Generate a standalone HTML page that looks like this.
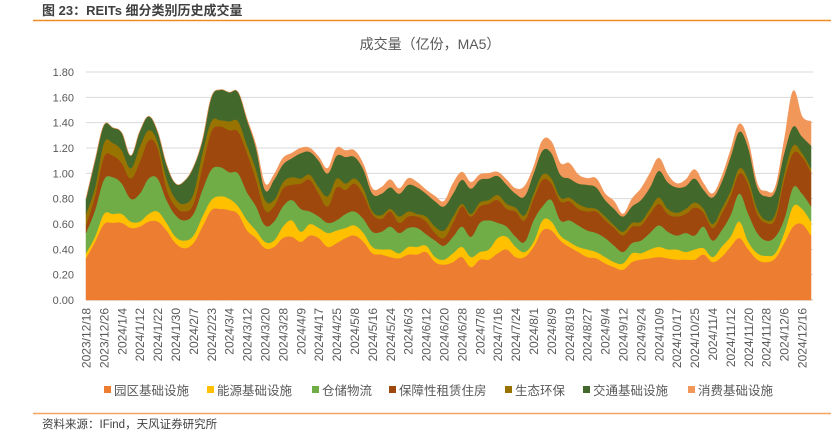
<!DOCTYPE html>
<html><head><meta charset="utf-8">
<style>
html,body{margin:0;padding:0;background:#fff;}
body{width:831px;height:440px;overflow:hidden;font-family:"Liberation Sans","Noto Sans CJK SC",sans-serif;}
svg text{font-family:"Liberation Sans","Noto Sans CJK SC",sans-serif;}
</style></head>
<body>
<svg id="chart" width="831" height="440" viewBox="0 0 831 440">
  <text x="42" y="15" font-size="13" font-weight="bold" fill="#404040">图 23：REITs 细分类别历史成交量</text>
  <line x1="33" y1="20.5" x2="831" y2="20.5" stroke="#F08A24" stroke-width="1.5"/>
  <text x="430" y="49" font-size="14" fill="#595959" text-anchor="middle">成交量（亿份，MA5）</text>
  <g id="grid"></g>
  <g id="yaxis"></g>
  <g id="areas"></g>
  <g id="xaxis"></g>
  <g id="legend"></g>
  <line x1="33" y1="413.5" x2="831" y2="413.5" stroke="#F4A460" stroke-width="1.5"/>
  <text x="42" y="428" font-size="11.5" fill="#404040">资料来源：IFind，天风证券研究所</text>
</svg>
<script>
const categories = ["2023/12/18","2023/12/26","2024/1/4","2024/1/12","2024/1/22","2024/1/30","2024/2/7","2024/2/23","2024/3/4","2024/3/12","2024/3/20","2024/3/28","2024/4/9","2024/4/17","2024/4/25","2024/5/8","2024/5/16","2024/5/24","2024/6/3","2024/6/12","2024/6/20","2024/6/28","2024/7/8","2024/7/16","2024/7/24","2024/8/1","2024/8/9","2024/8/19","2024/8/27","2024/9/4","2024/9/12","2024/9/24","2024/10/9","2024/10/17","2024/10/25","2024/11/4","2024/11/12","2024/11/20","2024/11/28","2024/12/6","2024/12/16"];
const seriesNames = ["园区基础设施","能源基础设施","仓储物流","保障性租赁住房","生态环保","交通基础设施","消费基础设施"];
const yTicks = ["0.00","0.20","0.40","0.60","0.80","1.00","1.20","1.40","1.60","1.80"];
const parkInfra = [.33,.46,.60,.61,.61,.57,.58,.62,.62,.55,.45,.41,.45,.58,.71,.72,.71,.68,.55,.49,.41,.42,.49,.50,.46,.51,.49,.42,.45,.49,.51,.46,.37,.36,.34,.33,.36,.36,.38,.30,.28,.30,.34,.26,.32,.32,.37,.40,.34,.34,.42,.55,.55,.47,.42,.38,.34,.33,.29,.26,.24,.30,.32,.33,.34,.33,.32,.32,.32,.36,.30,.34,.42,.49,.40,.32,.30,.33,.45,.58,.60,.51];
const energy = [.04,.04,.08,.07,.07,.05,.04,.06,.08,.06,.05,.06,.06,.08,.08,.10,.09,.06,.08,.06,.05,.05,.09,.13,.08,.09,.08,.11,.10,.08,.08,.07,.05,.04,.06,.04,.06,.06,.05,.04,.04,.07,.08,.08,.06,.08,.12,.10,.08,.04,.04,.08,.07,.04,.04,.04,.06,.05,.05,.04,.05,.07,.05,.07,.08,.07,.08,.06,.08,.05,.04,.08,.08,.13,.06,.05,.05,.04,.08,.16,.12,.11];
const warehouse = [.16,.21,.27,.29,.24,.18,.22,.28,.26,.18,.17,.16,.17,.21,.24,.23,.21,.26,.22,.19,.13,.15,.16,.16,.18,.10,.09,.08,.08,.11,.11,.11,.12,.14,.18,.16,.15,.15,.09,.13,.11,.13,.16,.16,.23,.23,.12,.08,.08,.08,.17,.11,.17,.12,.17,.17,.15,.15,.15,.13,.09,.08,.10,.13,.17,.14,.11,.15,.11,.17,.13,.13,.17,.22,.22,.16,.12,.13,.11,.15,.12,.12];
const housing = [.06,.11,.18,.17,.16,.16,.25,.30,.24,.09,.07,.07,.08,.18,.30,.32,.33,.33,.31,.21,.12,.12,.14,.12,.20,.25,.18,.13,.26,.19,.22,.19,.14,.10,.12,.08,.09,.09,.10,.06,.06,.11,.16,.16,.13,.13,.18,.14,.20,.17,.17,.21,.13,.15,.15,.13,.15,.17,.14,.14,.13,.13,.12,.15,.17,.14,.15,.15,.22,.11,.10,.13,.15,.16,.23,.15,.14,.14,.31,.27,.29,.27];
const ecology = [.09,.07,.11,.10,.10,.08,.12,.08,.05,.08,.06,.06,.08,.11,.08,.05,.07,.08,.06,.08,.08,.05,.05,.06,.04,.04,.05,.08,.07,.05,.04,.05,.02,.03,.02,.05,.04,.02,.04,.05,.06,.05,.02,.02,.03,.03,.04,.04,.03,.04,.04,.04,.04,.03,.03,.04,.03,.02,.03,.02,.03,.03,.03,.04,.05,.04,.03,.04,.04,.03,.03,.04,.04,.04,.04,.04,.02,.04,.05,.06,.03,.03];
const transport = [.12,.21,.14,.12,.14,.10,.12,.11,.08,.11,.12,.18,.21,.10,.19,.24,.23,.23,.20,.17,.08,.16,.14,.15,.20,.18,.21,.18,.18,.21,.17,.15,.14,.17,.17,.18,.21,.21,.18,.20,.19,.18,.19,.20,.18,.17,.15,.15,.11,.15,.16,.19,.20,.18,.15,.16,.18,.17,.13,.13,.12,.13,.17,.17,.21,.21,.20,.18,.19,.15,.21,.21,.27,.29,.25,.17,.19,.18,.16,.15,.13,.18];
const consumer = [0,0,0,0,0,0,0,0,0,0,0,0,0,0,0,0,0,0,.01,.02,.05,.04,.05,.04,.04,.03,.03,.04,.06,.05,.05,.04,.04,.05,.06,.04,.05,.04,.03,.04,.04,.08,.06,.05,.04,.04,.03,.04,.04,.08,.05,.08,.09,.09,.12,.07,.05,.07,.05,.06,.02,.06,.09,.11,.10,.06,.03,.05,.07,.05,.03,.04,.05,.06,.05,.03,.04,.03,.10,.28,.16,.19];
const series = [parkInfra, energy, warehouse, housing, ecology, transport, consumer];
const colors = ["#ED7D31","#FFC000","#70AD47","#9E480E","#997300","#43682B","#F1975A"];

const NS = "http://www.w3.org/2000/svg";
const plotL = 86, plotR = 811, plotB = 300, plotT = 72, yMax = 1.8;
const N = parkInfra.length;
const xAt = i => plotL + i * (plotR - plotL) / (N - 1);
const yAt = v => plotB - v / yMax * (plotB - plotT);
function mk(tag, attrs, parent){const e=document.createElementNS(NS,tag);for(const k in attrs)e.setAttribute(k,attrs[k]);parent.appendChild(e);return e;}
function smooth(pts, start){
  let d = (start ? 'M' : 'L') + pts[0][0].toFixed(2) + ',' + pts[0][1].toFixed(2);
  const t = 0.18;
  for (let i = 0; i < pts.length - 1; i++) {
    const p0 = pts[Math.max(0, i - 1)], p1 = pts[i], p2 = pts[i + 1], p3 = pts[Math.min(pts.length - 1, i + 2)];
    const c1x = p1[0] + (p2[0] - p0[0]) * t, c1y = p1[1] + (p2[1] - p0[1]) * t;
    const c2x = p2[0] - (p3[0] - p1[0]) * t, c2y = p2[1] - (p3[1] - p1[1]) * t;
    d += 'C' + c1x.toFixed(2) + ',' + c1y.toFixed(2) + ' ' + c2x.toFixed(2) + ',' + c2y.toFixed(2) + ' ' + p2[0].toFixed(2) + ',' + p2[1].toFixed(2);
  }
  return d;
}

const grid = document.getElementById('grid'), yaxis = document.getElementById('yaxis');
yTicks.forEach(t => {
  const v = parseFloat(t), y = yAt(v);
  const l = mk('line', {x1: plotL, x2: plotR + 2, y1: y, y2: y, stroke: v === 0 ? '#BFBFBF' : '#D9D9D9', 'stroke-width': 1}, grid);
  
  
  const tx = mk('text', {x: 74, y: y + 4, 'font-size': 11, fill: '#595959', 'text-anchor': 'end'}, yaxis);
  tx.textContent = t;
  
  
});

const areas = document.getElementById('areas');
const cum = new Array(N).fill(0);
series.forEach((s, si) => {
  const lower = cum.slice();
  for (let i = 0; i < N; i++) cum[i] += s[i];
  const up = [], lo = [];
  for (let i = 0; i < N; i++) up.push([xAt(i), yAt(cum[i])]);
  for (let i = N - 1; i >= 0; i--) lo.push([xAt(i), yAt(lower[i])]);
  const d = smooth(up, true) + smooth(lo, false) + 'Z';
  const p = mk('path', {d: d, fill: colors[si], stroke: colors[si], 'stroke-width': 0.5, 'stroke-linejoin': 'round'}, areas);
  
  
});

const xaxis = document.getElementById('xaxis');
categories.forEach((c, k) => {
  const x = xAt(k * 2) + 4.5;
  const t = mk('text', {x: 0, y: 0, 'font-size': 12, fill: '#595959', 'text-anchor': 'end', transform: 'translate(' + x + ',308) rotate(-90)'}, xaxis);
  t.textContent = c;
  
  
});

const legend = document.getElementById('legend');
const legX = [104, 207, 312, 389, 505, 583, 688];
seriesNames.forEach((n, i) => {
  const g = mk('g', {}, legend);
  
  
  mk('rect', {x: legX[i], y: 386, width: 7, height: 7, fill: colors[i]}, g);
  const t = mk('text', {x: legX[i] + 10, y: 395, 'font-size': 12.5, fill: '#595959'}, g);
  t.textContent = n;
});
</script>
</body></html>
